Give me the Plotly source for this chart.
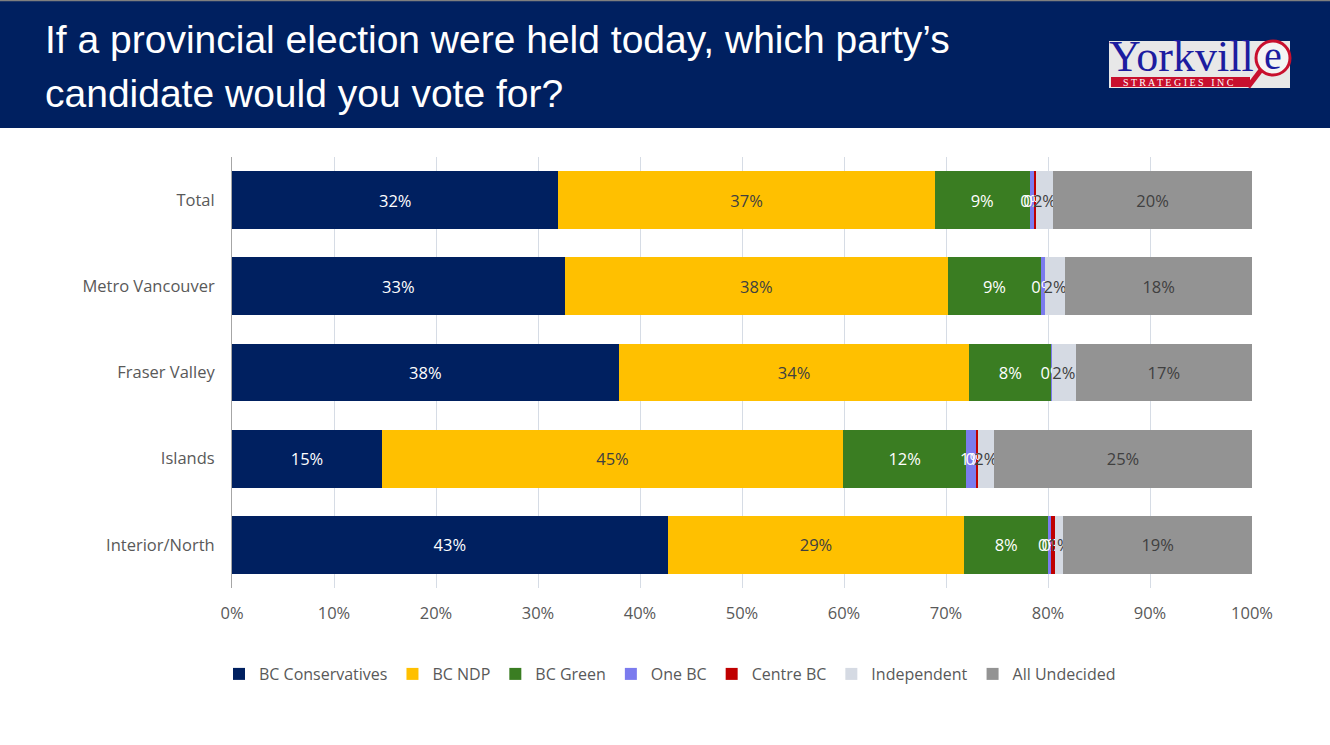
import plotly.graph_objects as go

# survey results, % of decided + undecided voters
regions = ["Total", "Metro Vancouver", "Fraser Valley", "Islands", "Interior/North"]
parties = ["BC Conservatives", "BC NDP", "BC Green", "One BC", "Centre BC", "Independent", "All Undecided"]

bc_conservatives = [32.0, 32.6, 37.9, 14.7, 42.7]
bc_ndp = [36.9, 37.6, 34.4, 45.2, 29.1]
bc_green = [9.3, 9.1, 8.0, 12.1, 8.2]
one_bc = [0.4, 0.4, 0.1, 1.0, 0.3]
centre_bc = [0.2, 0.0, 0.0, 0.1, 0.4]
independent = [1.7, 2.0, 2.3, 1.6, 0.8]
all_undecided = [19.5, 18.3, 17.3, 25.3, 18.5]

x_ticks = [0, 10, 20, 30, 40, 50, 60, 70, 80, 90, 100]

series = [bc_conservatives, bc_ndp, bc_green, one_bc, centre_bc, independent, all_undecided]
colors = ["#002060", "#FFC000", "#3A7D22", "#7B7BEE", "#C00000", "#D5DAE3", "#939393"]
text_colors = ["#FFFFFF", "#404040", "#FFFFFF", "#FFFFFF", "#FFFFFF", "#404040", "#404040"]

W, H = 1330, 745
L, R, T, B = 232, 1252, 157, 588   # plot area in pixels


def px(x):
    return (x - L) / (R - L)


def py(y):
    return (B - y) / (B - T)


fig = go.Figure()

for name, vals, col, tcol in zip(parties, series, colors, text_colors):
    fig.add_trace(go.Bar(
        name = name, y = regions, x = vals, orientation = "h",
        marker = dict(color = col, line = dict(width = 0)),
        texttemplate = "%{x:.0f}%", textposition = "inside",
        insidetextanchor = "middle", constraintext = "none", textangle = 0,
        textfont = dict(size = 16.5, color = tcol, family = "Open Sans"),
        hoverinfo = "name+x"
    ))

shapes = [
    # header band
    dict(type = "rect", xref = "paper", yref = "paper", x0 = px(0), x1 = px(W), y0 = py(128), y1 = py(0),
         fillcolor = "#002060", line = dict(width = 0), layer = "below"),
    dict(type = "line", xref = "paper", yref = "paper", x0 = px(0), x1 = px(W), y0 = py(0.5), y1 = py(0.5),
         line = dict(color = "#7F7F7F", width = 1.5)),
    # logo
    dict(type = "rect", xref = "paper", yref = "paper", x0 = px(1109), x1 = px(1290), y0 = py(88), y1 = py(41),
         fillcolor = "#E8E8E8", line = dict(width = 0)),
    dict(type = "rect", xref = "paper", yref = "paper", x0 = px(1111), x1 = px(1250), y0 = py(87), y1 = py(77),
         fillcolor = "#C8102E", line = dict(width = 0)),
    dict(type = "line", xref = "paper", yref = "paper", x0 = px(1261), x1 = px(1248), y0 = py(70), y1 = py(87),
         line = dict(color = "#C8102E", width = 5)),
    dict(type = "circle", xref = "paper", yref = "paper", x0 = px(1256), x1 = px(1290), y0 = py(75), y1 = py(41),
         fillcolor = "#F4F4F4", line = dict(color = "#C8102E", width = 3)),
]

annotations = [
    dict(text = "If a provincial election were held today, which party\u2019s", x = px(43), y = py(39),
         xref = "paper", yref = "paper", xanchor = "left", yanchor = "middle", showarrow = False,
         font = dict(family = "Liberation Sans, Arial", size = 39, color = "#FFFFFF")),
    dict(text = "candidate would you vote for?", x = px(43), y = py(93),
         xref = "paper", yref = "paper", xanchor = "left", yanchor = "middle", showarrow = False,
         font = dict(family = "Liberation Sans, Arial", size = 39, color = "#FFFFFF")),
    dict(text = "Yorkvill", x = px(1107), y = py(57),
         xref = "paper", yref = "paper", xanchor = "left", yanchor = "middle", showarrow = False,
         font = dict(family = "Liberation Serif, Times New Roman", size = 44, color = "#1C1CA0")),
    dict(text = "e", x = px(1273), y = py(55),
         xref = "paper", yref = "paper", xanchor = "center", yanchor = "middle", showarrow = False,
         font = dict(family = "Liberation Serif, Times New Roman", size = 40, color = "#1C1CA0")),
    dict(text = "S T R A T E G I E S   I N C", x = px(1178), y = py(82),
         xref = "paper", yref = "paper", xanchor = "center", yanchor = "middle", showarrow = False,
         font = dict(family = "Liberation Serif, Times New Roman", size = 10, color = "#FFFFFF")),
]

fig.update_layout(
    width = W, height = H,
    margin = dict(l = L, r = W - R, t = T, b = H - B, pad = 0),
    paper_bgcolor = "#FFFFFF", plot_bgcolor = "#FFFFFF",
    barmode = "stack", bargap = 0.33,
    font = dict(family = "Open Sans", size = 16.5, color = "#595959"),
    showlegend = True,
    legend = dict(orientation = "h", x = px(670), y = py(674), xanchor = "center", yanchor = "middle",
                  font = dict(size = 16, color = "#595959"), itemclick = False, tracegroupgap = 0,
                  traceorder = "normal"),
    shapes = shapes, annotations = annotations,
    xaxis = dict(range = [0, 100], tickvals = x_ticks, ticktext = [f"{v}%" for v in x_ticks],
                 showgrid = True, gridcolor = "#D6DCE5", gridwidth = 1, zeroline = False,
                 showline = False, ticks = "", ticklabelstandoff = 13, fixedrange = True),
    yaxis = dict(autorange = "reversed", showgrid = False, showline = True, linecolor = "#A6A6A6",
                 linewidth = 1, ticks = "", ticklabelstandoff = 13, fixedrange = True),
)

# page has a default 8px body margin; drop it so the figure sits at the window corner
fig.write_html("out.html", config = {"displayModeBar": False},
               post_script = "document.body.style.margin = '0';")
